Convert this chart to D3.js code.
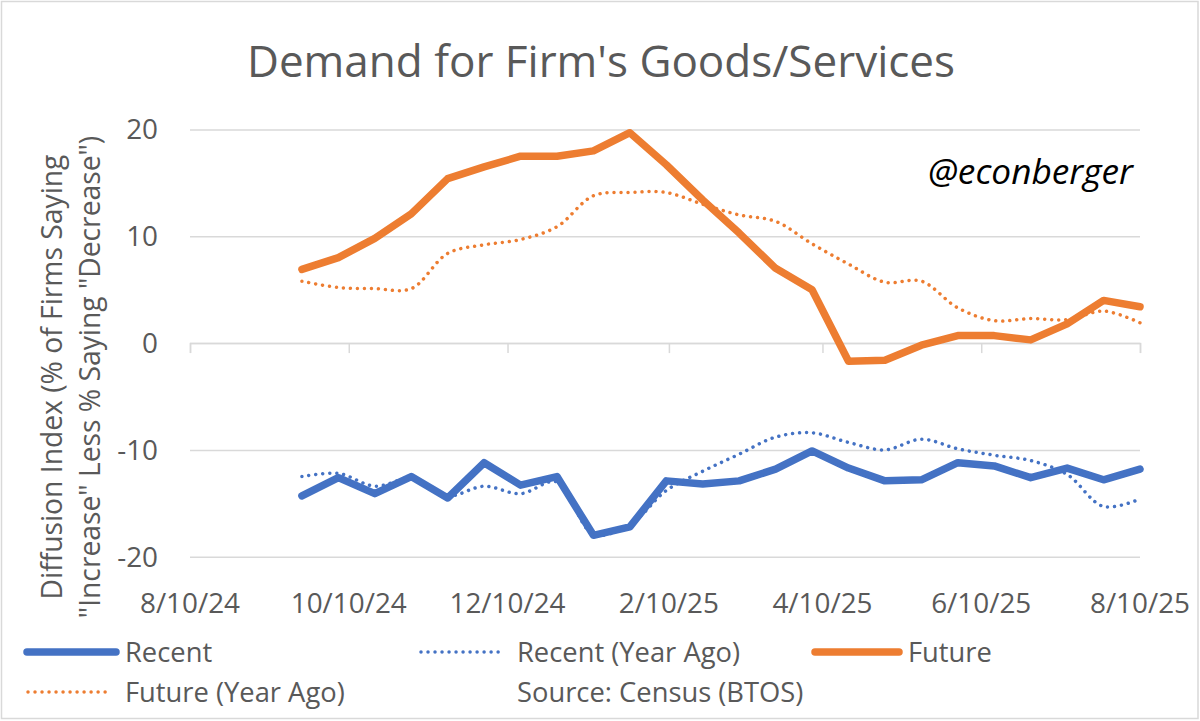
<!DOCTYPE html>
<html>
<head>
<meta charset="utf-8">
<script src="https://cdn.jsdelivr.net/npm/d3@7"></script>
<style>
  html, body { margin: 0; padding: 0; background: #fff; }
  svg { display: block; }
  text { font-family: "Open Sans", "Noto Sans", sans-serif; }
</style>
</head>
<body>
<svg id="chart" width="1200" height="721"></svg>
<script>
// ---- data ----
const dates = ["2024-09-22","2024-10-06","2024-10-20","2024-11-03","2024-11-17","2024-12-01",
  "2024-12-15","2024-12-29","2025-01-12","2025-01-26","2025-02-09","2025-02-23","2025-03-09",
  "2025-03-23","2025-04-06","2025-04-20","2025-05-04","2025-05-18","2025-06-01","2025-06-15",
  "2025-06-29","2025-07-13","2025-07-27","2025-08-10"];
const recent = [-14.3,-12.6,-14.1,-12.5,-14.5,-11.2,-13.3,-12.5,-18.0,-17.2,-12.9,-13.2,
  -12.9,-11.8,-10.1,-11.7,-12.9,-12.8,-11.2,-11.5,-12.6,-11.7,-12.8,-11.8];
const recentYearAgo = [-12.5,-12.2,-13.4,-12.7,-14.3,-13.4,-14.1,-13.0,-17.9,-17.0,-13.8,-12.0,
  -10.4,-8.8,-8.4,-9.3,-10.0,-9.0,-9.9,-10.5,-11.0,-12.3,-15.3,-14.6];
const future = [6.9,8.0,9.8,12.1,15.4,16.5,17.5,17.5,18.0,19.7,16.7,13.4,10.3,7.0,5.0,
  -1.7,-1.6,-0.2,0.7,0.7,0.3,1.8,4.0,3.4];
const futureYearAgo = [5.8,5.2,5.1,5.1,8.4,9.2,9.7,10.9,13.8,14.1,14.1,13.0,12.0,11.4,9.3,
  7.4,5.7,5.8,3.3,2.1,2.3,2.2,3.0,1.9];
const xTickDates = ["2024-08-10","2024-10-10","2024-12-10","2025-02-10","2025-04-10","2025-06-10","2025-08-10"];
const xTickLabels = ["8/10/24","10/10/24","12/10/24","2/10/25","4/10/25","6/10/25","8/10/25"];
const yTicks = [-20,-10,0,10,20];
const seriesNames = ["Recent","Recent (Year Ago)","Future","Future (Year Ago)"];
const titleText = "Demand for Firm's Goods/Services";
const yTitle1 = "Diffusion Index (% of Firms Saying";
const yTitle2 = "\"Increase\" Less % Saying \"Decrease\")";
const sourceText = "Source: Census (BTOS)";
const watermark = "@econberger";

// ---- setup ----
const parse = s => { const [y,m,d] = s.split("-").map(Number); return new Date(y, m-1, d); };
const BLUE = "#4472C4", ORANGE = "#ED7D31", TXT = "#595959", GRID = "#d9d9d9";
const svg = d3.select("#chart");

const x = d3.scaleTime().domain([parse("2024-08-10"), parse("2025-08-10")]).range([190, 1140]);
const y = d3.scaleLinear().domain([-20, 20]).range([556.7, 129.5]);

function fit(sel, target) {
  const w = sel.node().getComputedTextLength();
  const fs = parseFloat(sel.attr("font-size"));
  sel.attr("font-size", (fs * target / w).toFixed(2));
}

// border
svg.append("rect").attr("x", 1.5).attr("y", 1.5).attr("width", 1196.5).attr("height", 717)
  .attr("fill", "#fff").attr("stroke", GRID).attr("stroke-width", 1.5);

// title
const t = svg.append("text").attr("x", 601).attr("y", 77).attr("text-anchor", "middle")
  .attr("font-size", 40).attr("fill", TXT).text(titleText);
fit(t, 708);

// gridlines + y labels
const yAxis = d3.axisLeft(y).tickValues(yTicks).tickSize(-950).tickFormat(d => String(d)).tickPadding(32);
const gy = svg.append("g").attr("transform", "translate(190,0)").call(yAxis);
gy.select(".domain").remove();
gy.selectAll(".tick line").attr("stroke", GRID).attr("stroke-width", 1.5);
gy.selectAll(".tick text").attr("fill", TXT).attr("font-size", 26).attr("font-family", "\"Open Sans\", sans-serif")
  .attr("x", -32).attr("dy", "0.34em");

// x axis at zero with ticks downward
const xAxis = d3.axisBottom(x).tickValues(xTickDates.map(parse)).tickSize(10).tickFormat("");
const gx = svg.append("g").attr("transform", `translate(0,${y(0)})`).call(xAxis);
gx.select(".domain").attr("stroke", GRID).attr("stroke-width", 1.5);
gx.selectAll(".tick line").attr("stroke", GRID).attr("stroke-width", 1.5);

// x tick labels at bottom
const xl = svg.append("g").selectAll("text").data(xTickDates).join("text")
  .attr("x", d => x(parse(d))).attr("y", 613).attr("text-anchor", "middle")
  .attr("fill", TXT).attr("font-size", 26).text((d, i) => xTickLabels[i]);
{
  const w = xl.nodes()[1].getComputedTextLength();
  xl.attr("font-size", (26 * 116 / w).toFixed(2));
  gy.selectAll(".tick text").attr("font-size", (26 * 116 / w).toFixed(2));
}

// y title
const yt = svg.append("g").attr("transform", "translate(0,377) rotate(-90)");
const yt1 = yt.append("text").attr("x", 0).attr("y", 62).attr("text-anchor", "middle")
  .attr("font-size", 26).attr("fill", TXT).text(yTitle1);
fit(yt1, 445);
yt.append("text").attr("x", 0).attr("y", 100).attr("text-anchor", "middle")
  .attr("font-size", yt1.attr("font-size")).attr("fill", TXT).text(yTitle2);

// watermark
const wm = svg.append("text").attr("x", 1133).attr("y", 184).attr("text-anchor", "end")
  .attr("font-size", 30).attr("font-style", "italic").attr("fill", "#000").text(watermark);
fit(wm, 205);

// lines
const pts = vals => vals.map((v, i) => [x(parse(dates[i])), y(v)]);
const straight = d3.line().curve(d3.curveLinear);
const smooth = d3.line().curve(d3.curveCatmullRom.alpha(0.5));

function dotted(g, vals, color) {
  g.append("path").attr("d", smooth(pts(vals))).attr("fill", "none").attr("stroke", color)
    .attr("stroke-width", 3.5).attr("stroke-linecap", "round").attr("stroke-dasharray", "0.01 7");
}
function solid(g, vals, color) {
  g.append("path").attr("d", straight(pts(vals))).attr("fill", "none").attr("stroke", color)
    .attr("stroke-width", 7.5).attr("stroke-linejoin", "round").attr("stroke-linecap", "round");
}
const lg = svg.append("g");
dotted(lg, recentYearAgo, BLUE);
dotted(lg, futureYearAgo, ORANGE);
solid(lg, recent, BLUE);
solid(lg, future, ORANGE);

// legend
const legendItems = [
  {name: seriesNames[0], color: BLUE, dotted: false, x1: 27, x2: 116, tx: 125, y: 652},
  {name: seriesNames[1], color: BLUE, dotted: true, x1: 421, x2: 503, tx: 517, y: 652},
  {name: seriesNames[2], color: ORANGE, dotted: false, x1: 815, x2: 899, tx: 908, y: 652},
  {name: seriesNames[3], color: ORANGE, dotted: true, x1: 28, x2: 110, tx: 125, y: 692},
  {name: sourceText, color: null, dotted: false, x1: 0, x2: 0, tx: 517, y: 692}
];
const leg = svg.append("g");
legendItems.forEach(it => {
  if (it.color) {
    const l = leg.append("line").attr("x1", it.x1).attr("x2", it.x2).attr("y1", it.y).attr("y2", it.y)
      .attr("stroke", it.color).attr("stroke-linecap", "round");
    if (it.dotted) l.attr("stroke-width", 3.5).attr("stroke-dasharray", "0.01 7");
    else l.attr("stroke-width", 7.5);
  }
  leg.append("text").attr("class", "legtext").attr("x", it.tx).attr("y", it.y).attr("dy", "0.35em")
    .attr("font-size", 26).attr("fill", TXT).text(it.name);
});
{
  const nodes = leg.selectAll(".legtext").nodes();
  const w = nodes[1].getComputedTextLength();
  leg.selectAll(".legtext").attr("font-size", (26 * 223 / w).toFixed(2));
}
</script>
</body>
</html>
